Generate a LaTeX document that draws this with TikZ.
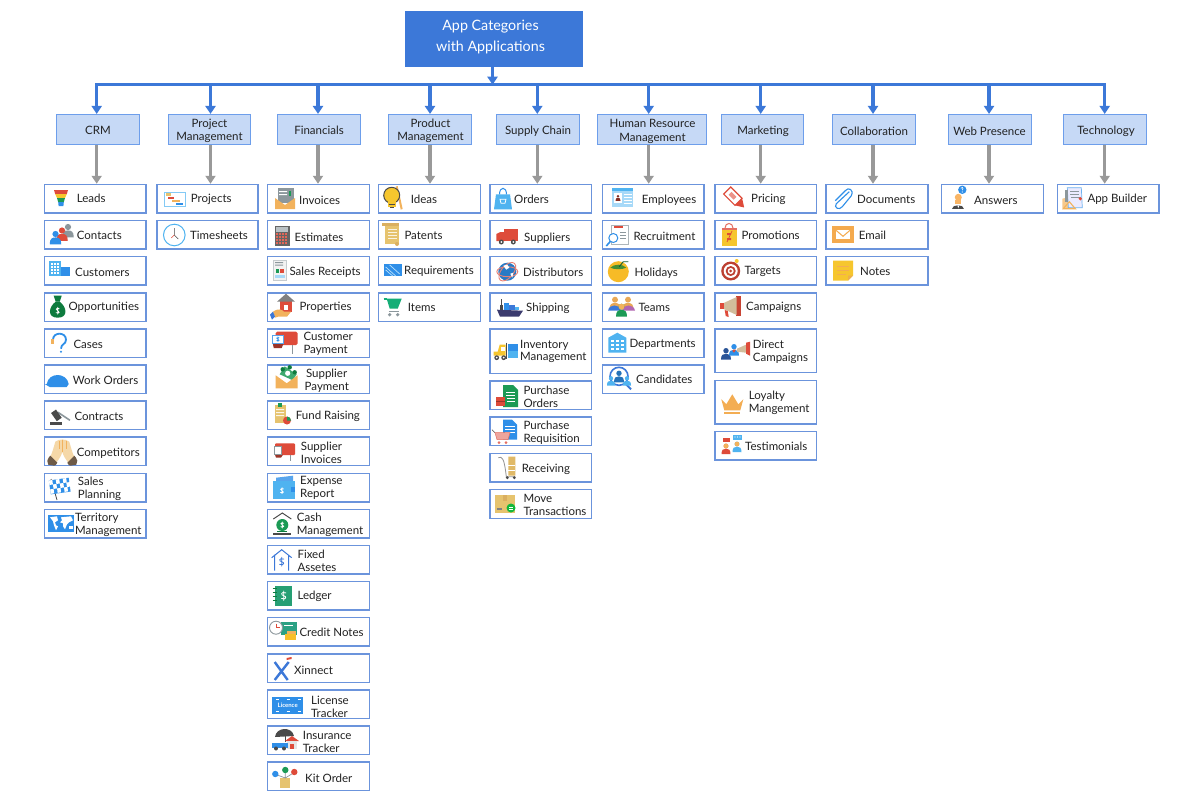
\documentclass[tikz,border=0pt]{standalone}
\usepackage{fontspec}
\setmainfont{Lato}
\usetikzlibrary{arrows.meta,calc}
\definecolor{rootc}{HTML}{3C78D8}
\definecolor{catf}{HTML}{C6D9F6}
\definecolor{catd}{HTML}{6D9EEB}
\definecolor{itemd}{HTML}{6B94DC}
\definecolor{grayar}{HTML}{999999}
\definecolor{txt}{HTML}{222222}
\definecolor{ib}{HTML}{2F8FE8}
\definecolor{ibl}{HTML}{4FB3F0}
\definecolor{ir}{HTML}{DE4B3A}
\definecolor{io}{HTML}{F2B25C}
\definecolor{iy}{HTML}{F6C62E}
\definecolor{ig}{HTML}{1C9A55}
\definecolor{igd}{HTML}{0E7B3E}
\definecolor{ik}{HTML}{4A4A4A}
\definecolor{it}{HTML}{E6C36E}
\definecolor{ip}{HTML}{F5D8A8}
\definecolor{igr}{HTML}{8C979C}
\tikzset{
  rootbox/.style={draw=rootc,fill=rootc,minimum width=177.5pt,minimum height=55pt,inner sep=0pt},
  catbox/.style={draw=catd,fill=catf,line width=1pt,inner sep=0pt},
  itembox/.style={draw=itemd,fill=white,line width=1.5pt,inner sep=0pt},
  rootlabel/.style={text=white,font=\fontsize{14.3}{21}\selectfont,align=center,inner sep=0pt,yshift=-1pt},
  catlabel/.style={text=txt,font=\fontsize{11.5}{13.2}\selectfont,align=center,inner sep=0pt,yshift=-1pt},
  itemlabel/.style={text=txt,font=\fontsize{11.5}{12.8}\selectfont,align=left,inner sep=0pt,anchor=west,yshift=-.8pt},
  busline/.style={draw=rootc,line width=2.6pt},
  bluear/.style={draw=rootc,line width=3.3pt,-{Triangle[length=8pt,width=10pt,fill=rootc]}},
  grayarr/.style={draw=grayar,line width=3.5pt,-{Triangle[length=8pt,width=10pt,fill=grayar]}},
}
% category box: name, x1, x2, label centre x, label centre y, label
\newcommand\catn[6]{\node[catbox,minimum width={(#3-#2)*1pt},minimum height=30.5pt] (#1) at ({(#2+#3)/2},129.7) {};
  \node[catlabel] (#1T) at (#4,#5) {#6};}
% item box: name, x1, x2, ytop, height, text x, text y, label
\newcommand\itm[8]{\node[itembox,minimum width={(#3-#2)*1pt},minimum height={(#5)*1pt}] (#1) at ({(#2+#3)/2},{#4+(#5)/2}) {};
  \node[itemlabel] (#1T) at (#6,#7) {#8};}
\newcommand\ic[3]{\begin{scope}[shift={(#1,#2)}]#3\end{scope}}
\newcommand\dollarmark[4]{\begin{scope}[shift={(#3,#4)},scale=#2]\draw[#1,line width=.8pt,line cap=round] (1.6,-2) .. controls (-2.2,-3.2) and (-2.2,-.3) .. (0,0) .. controls (2.2,.3) and (2.2,3.2) .. (-1.6,2) (0,-3.4) -- (0,3.4);\end{scope}}
\newcommand\person[4]{\begin{scope}[shift={(#1,#2)},scale=#3]\fill[#4] (0,0) circle (2.7);\fill[#4] (-5,9) .. controls (-5,4) and (-3,3) .. (0,3) .. controls (3,3) and (5,4) .. (5,9) -- cycle;\end{scope}}
\begin{document}
\begin{tikzpicture}[x=1pt,y=-1pt]
\useasboundingbox (0,0) rectangle (1199,803);
\fill[white] (0,0) rectangle (1199,803);
% root
\node[rootbox] (root) at (493.75,38.75) {};
\node[rootlabel] (rootT) at (490.5,36) {App Categories\\with Applications};
% bus coordinates
\foreach \n/\x in {1/96.7,2/210.5,3/318,4/430,5/537.3,6/648.7,7/760.7,8/873,9/989,10/1104.7}
  \coordinate (bus\n) at (\x,84.7);
\coordinate (busroot) at (492.5,84.7);
\draw[busline,line cap=rect] (bus1) -- (bus10);
% categories
\catn{c1}{56.5}{139.5}{98}{129}{CRM}
\catn{c2}{168}{250}{209.5}{130}{Project\\Management}
\catn{c3}{277.5}{360}{319}{129}{Financials}
\catn{c4}{388.5}{471.3}{430.5}{130}{Product\\Management}
\catn{c5}{496.3}{579}{538}{130}{Supply Chain}
\catn{c6}{597.3}{706}{652.5}{130.5}{Human Resource\\Management}
\catn{c7}{721}{803.7}{763}{130}{Marketing}
\catn{c8}{832.3}{915.3}{874}{130}{Collaboration}
\catn{c9}{948}{1031}{989.5}{130}{Web Presence}
\catn{c10}{1063.3}{1146.7}{1106}{130}{Technology}
\def\ra{184.5}\def\rb{220.6}\def\rc{256.7}\def\rd{292.8}\def\re{328.9}\def\rf{365}\def\rg{401.1}\def\rh{437.2}\def\ri{473.3}\def\rj{509.4}\def\rk{545.5}\def\rl{581.6}\def\rm{617.7}\def\rn{653.8}\def\ro{689.9}\def\rp{726}\def\rq{762.1}
\def\hh{28.5}
% col 1
\itm{a1}{44.5}{146}{\ra}{\hh}{76.7}{198}{Leads}
\itm{a2}{44.5}{146}{\rb}{\hh}{76.7}{235}{Contacts}
\itm{a3}{44.5}{146}{\rc}{\hh}{75}{271.5}{Customers}
\itm{a4}{44.5}{146}{\rd}{\hh}{68.3}{306.7}{Opportunities}
\itm{a5}{44.5}{146}{\re}{\hh}{73.3}{343.6}{Cases}
\itm{a6}{44.5}{146}{\rf}{\hh}{72.7}{379.3}{Work Orders}
\itm{a7}{44.5}{146}{\rg}{\hh}{74.3}{416}{Contracts}
\itm{a8}{44.5}{146}{\rh}{\hh}{76.7}{452}{Competitors}
\itm{a9}{44.5}{146}{\ri}{\hh}{77.7}{487.7}{Sales\\Planning}
\itm{a10}{44.5}{146}{\rj}{\hh}{75}{524}{Territory\\Management}
% col 2
\itm{b1}{157}{258}{\ra}{\hh}{190.7}{199}{Projects}
\itm{b2}{157}{258}{\rb}{\hh}{190}{234.7}{Timesheets}
% col 3
\itm{d1}{267.5}{369.5}{\ra}{\hh}{299}{200}{Invoices}
\itm{d2}{267.5}{369.5}{\rb}{\hh}{294.3}{237}{Estimates}
\itm{d3}{267.5}{369.5}{\rc}{\hh}{289.3}{271.5}{Sales Receipts}
\itm{d4}{267.5}{369.5}{\rd}{\hh}{299.3}{306.7}{Properties}
\itm{d5}{267.5}{369.5}{\re}{\hh}{303.3}{342.7}{Customer\\Payment}
\itm{d6}{267.5}{369.5}{\rf}{\hh}{304.5}{379.7}{\hspace{1.3pt}Supplier\\Payment}
\itm{d7}{267.5}{369.5}{\rg}{\hh}{295.7}{415.3}{Fund Raising}
\itm{d8}{267.5}{369.5}{\rh}{\hh}{300.7}{451.7}{Supplier\\Invoices}
\itm{d9}{267.5}{369.5}{\ri}{\hh}{300}{487.3}{Expense\\Report}
\itm{d10}{267.5}{369.5}{\rj}{\hh}{296.7}{524}{Cash\\Management}
\itm{d11}{267.5}{369.5}{\rk}{\hh}{297.3}{560}{Fixed\\Assetes}
\itm{d12}{267.5}{369.5}{\rl}{\hh}{297.3}{595.7}{Ledger}
\itm{d13}{267.5}{369.5}{\rm}{\hh}{299.3}{632}{Credit Notes}
\itm{d14}{267.5}{369.5}{\rn}{\hh}{294}{669.7}{Xinnect}
\itm{d15}{267.5}{369.5}{\ro}{\hh}{311}{706}{License\\Tracker}
\itm{d16}{267.5}{369.5}{\rp}{\hh}{302.7}{741.3}{Insurance\\Tracker}
\itm{d17}{267.5}{369.5}{\rq}{\hh}{305}{777.3}{Kit Order}
% col 4
\itm{e1}{378.5}{480.5}{\ra}{\hh}{410.7}{199}{Ideas}
\itm{e2}{378.5}{480.5}{\rb}{\hh}{404.3}{234.7}{Patents}
\itm{e3}{378.5}{480.5}{\rc}{\hh}{404}{270.7}{Requirements}
\itm{e4}{378.5}{480.5}{\rd}{\hh}{407.7}{307}{Items}
% col 5
\itm{f1}{490}{591.5}{\ra}{\hh}{514}{198.3}{Orders}
\itm{f2}{490}{591.5}{\rb}{\hh}{524}{237}{Suppliers}
\itm{f3}{490}{591.5}{\rc}{\hh}{523}{271.3}{Distributors}
\itm{f4}{490}{591.5}{\rd}{\hh}{526}{307.7}{Shipping}
\itm{f5}{490}{591.5}{329}{44.4}{520}{350.7}{Inventory\\Management}
\itm{f6}{490}{591.5}{381}{28.7}{523.3}{396.2}{Purchase\\Orders}
\itm{f7}{490}{591.5}{417.2}{28.5}{523.3}{431.7}{Purchase\\Requisition}
\itm{f8}{490}{591.5}{453.3}{28.7}{521.7}{468.3}{Receiving}
\itm{f9}{490}{591.5}{489.4}{28.9}{523.3}{504.5}{Move\\Transactions}
% col 6
\itm{g1}{602.5}{704}{\ra}{\hh}{641.7}{199}{Employees}
\itm{g2}{602.5}{704}{\rb}{\hh}{633.3}{235.3}{Recruitment}
\itm{g3}{602.5}{704}{\rc}{\hh}{634.3}{272}{Holidays}
\itm{g4}{602.5}{704}{\rd}{\hh}{638.3}{307}{Teams}
\itm{g5}{602.5}{704}{\re}{\hh}{629.3}{343.7}{Departments}
\itm{g6}{602.5}{704}{\rf}{\hh}{636}{379}{Candidates}
% col 7
\itm{h1}{715}{816.5}{\ra}{\hh}{751}{198.7}{Pricing}
\itm{h2}{715}{816.5}{\rb}{\hh}{741.3}{234.7}{Promotions}
\itm{h3}{715}{816.5}{\rc}{\hh}{744.3}{270.7}{Targets}
\itm{h4}{715}{816.5}{\rd}{\hh}{746}{306.7}{Campaigns}
\itm{h5}{715}{816.5}{329}{43.7}{752.7}{351.3}{Direct\\Campaigns}
\itm{h6}{715}{816.5}{380.4}{43.7}{748.7}{402}{Loyalty\\Mangement}
\itm{h7}{715}{816.5}{431.6}{28.5}{745}{445.7}{Testimonials}
% col 8
\itm{j1}{826}{928}{\ra}{\hh}{857}{198.7}{Documents}
\itm{j2}{826}{928}{\rb}{\hh}{858.7}{234.7}{Email}
\itm{j3}{826}{928}{\rc}{\hh}{860}{270.7}{Notes}
% col 9, 10
\itm{k1}{941.5}{1043.5}{\ra}{\hh}{974}{199.3}{Answers}
\itm{l1}{1057.5}{1159}{\ra}{\hh}{1087.3}{198.7}{App Builder}
% connectors
\draw[bluear] (root.south -| busroot) -- (busroot);
\foreach \c/\b/\it in {c1/bus1/a1,c2/bus2/b1,c3/bus3/d1,c4/bus4/e1,c5/bus5/f1,c6/bus6/g1,c7/bus7/h1,c8/bus8/j1,c9/bus9/k1,c10/bus10/l1}{
  \draw[bluear] (\b) -- (\b |- \c.north);
  \draw[grayarr] (\c.south -| \b) -- (\b |- \it.north);
}
% ---------- icons ----------
% Leads
\ic{61}{198}{\fill[ir] (-7,-8)--(7,-8)--(5.8,-4)--(-5.8,-4)--cycle;\fill[iy] (-5.8,-4)--(5.8,-4)--(4,0)--(-4,0)--cycle;\fill[ig] (-4,0)--(4,0)--(2.8,4)--(-2.8,4)--cycle;\fill[ib] (-2.8,4)--(2.8,4)--(2.4,8)--(-2.4,8)--cycle;}
% Contacts
\ic{61.5}{234.5}{\person{6.5}{-7.5}{1.15}{igr}\person{0.5}{-4}{1.15}{ir}\person{-6}{-.5}{1.15}{ib}}
% Customers
\ic{59}{269}{\fill[ib] (-10,-2) rectangle (11,7);\fill[ibl] (-10,-8) rectangle (2,7);\foreach \i in {-8,-5,-2}{\foreach \j in {-6,-3,0,3}{\fill[white] (\i,\j) rectangle ++(2,1.6);}}}
% Opportunities
\ic{57.7}{306.7}{\fill[igd] (-2,-5) .. controls (-9,0) and (-11,11) .. (0,11) .. controls (11,11) and (9,0) .. (2,-5) -- cycle;\fill[igd] (-4,-11) -- (4,-11) -- (2,-5) -- (-2,-5) -- cycle;\dollarmark{white}{1}{0}{4}}
% Cases
\ic{59}{342.7}{\draw[ib,line width=1.8pt] (-6,-3) .. controls (-6,-11) and (7,-11) .. (7,-3) .. controls (7,2) and (2,1) .. (2,6);\fill[ib] (2,9) circle (1.2);\fill[io] (-8.5,-4) rectangle (-5,1);}
% Work Orders
\ic{57.7}{380}{\fill[ib] (-11,4) .. controls (-9,-8) and (9,-8) .. (11,4) -- cycle;\fill[ib] (-13,4) -- (11,4) -- (9,7) -- (-8,7) -- cycle;}
% Contracts
\ic{60}{415.3}{\fill[ik] (-10,7) rectangle (2,9.5);\draw[igr,line width=1.6pt] (-2,-3) -- (10,5);\begin{scope}[rotate=35]\fill[ik] (-6,-7) rectangle (0,3);\end{scope}}
% Competitors
\ic{62.3}{452.7}{\fill[ip] (-7,-11) .. controls (-3,-14) and (3,-14) .. (7,-11) .. controls (9,-4) and (10,0) .. (12,4) -- (6,10) .. controls (3,6) and (1,3) .. (0,-1) .. controls (-1,3) and (-3,6) .. (-6,10) -- (-12,4) .. controls (-10,0) and (-9,-4) .. (-7,-11) -- cycle;\draw[io,line width=.5pt] (-3.5,-12) -- (-3.5,-4) (3.5,-12) -- (3.5,-4) (0,-13) -- (0,-1);\fill[ik!70!brown] (-15,8) .. controls (-14,5) and (-13,4) .. (-12,3) -- (-5,10) .. controls (-6,12) and (-7,13) .. (-8,13) -- (-14,12) -- cycle;\fill[ik!70!brown] (15,8) .. controls (14,5) and (13,4) .. (12,3) -- (5,10) .. controls (6,12) and (7,13) .. (8,13) -- (14,12) -- cycle;}
% Sales Planning
\ic{60}{488}{\draw[ik,line width=.8pt] (-9,-9) -- (-3,12);\begin{scope}[rotate=8]\fill[ib] (-10,-9) rectangle (10,5);\foreach \i/\j in {-10/-9,-3/-9,4/-9,-6.5/-4.5,.5/-4.5,7/-4.5,-10/0,-3/0,4/0}{\fill[white] (\i,\j) rectangle ++(3.5,4.5);}\end{scope}}
% Territory
\ic{61}{523.3}{\fill[ib] (-13,-8.5) rectangle (13,8.5);\fill[white] (-11,-6) -- (-4,-7) -- (-3,-3) -- (-6,-1) -- (-5,2) -- (-3,3) -- (-5,7) -- (-7,2) -- (-8,-2) -- cycle;\fill[white] (0,-6) -- (10,-7) -- (12,-3) -- (8,-1) -- (6,1) -- (4,6) -- (2,3) -- (2,0) -- (-1,-1) -- (1,-3) -- cycle;\fill[white] (8,3) rectangle (12,6);}
% Projects
\ic{175}{199.3}{\draw[ibl!70,line width=.8pt,fill=white] (-10.5,-7) rectangle (10.5,7);\fill[it] (-9,-6) rectangle (-4,-3.5);\fill[ir] (-7,-2) rectangle (-1,0);\fill[io] (-3,1) rectangle (5,3);\fill[ib] (1,3.7) rectangle (8,5.5);}
% Timesheets
\ic{174.3}{235}{\draw[ibl,line width=1pt,fill=white] (0,0) circle (10.8);\draw[ik,line width=.6pt] (0,-7) -- (0,0) -- (4,4);\draw[ir,line width=.6pt] (0,0) -- (-3,3);}
% Invoices
\ic{285}{199}{\fill[igr] (-7.5,-11) rectangle (8.5,4);\fill[white] (-6,-8) rectangle (2,-7) (-6,-5) rectangle (2,-4);\fill[ig] (4,-8) rectangle (6,-3);\fill[io] (-10,-1) -- (0,6) -- (10,-1) -- (10,10) -- (-10,10) -- cycle;}
% Estimates
\ic{282}{235.5}{\fill[ik!85] (-7.5,-10) rectangle (7.5,10);\fill[igr!60] (-6,-8.5) rectangle (6,-4);\foreach \i in {-6,-3,0,3}{\foreach \j in {-2.5,.5,3.5,6.5}{\fill[ir!85] (\i,\j) rectangle ++(2.2,2);}}}
% Sales Receipts
\ic{280}{270}{\draw[igr!50,fill=white!95!black,line width=.8pt] (-6.5,-10) rectangle (6.5,10);\fill[igr] (-5,-8) rectangle (3,-7) (-5,-5.5) rectangle (3,-4.5);\fill[ig] (-4,-1) rectangle (-1,3);\fill[ir] (0,-1) rectangle (4,3);\fill[ibl!50] (-5,5) rectangle (5,8);}
% Properties
\ic{284}{306.7}{\fill[ir] (-4,-6) rectangle (8,5);\fill[ik!70] (-7,-5) -- (2,-13) -- (11,-5) -- cycle;\fill[white] (0,-2) rectangle (4,3);\fill[io] (-11,5) .. controls (-5,1) and (-2,3) .. (0,5) -- (7,5) -- (3,10) -- (-6,10) -- (-9,11) -- cycle;\fill[rootc] (-14,8) -- (-11,5) -- (-9,10) -- (-12,13) -- cycle;}
% Customer Payment
\ic{281.7}{341}{\fill[ir,rounded corners=1.5pt] (-6,-9.3) rectangle (16,4);\fill[ir!70!black] (-9,2) -- (2,2) -- (0,7) -- (-8,7) -- cycle;\draw[ib!80,fill=white,line width=.7pt] (-9.5,-5.5) rectangle (2,2);\fill[igr] (10,4) rectangle (11,12.5);\dollarmark{ib}{.7}{-3.8}{-1.8}}
% Supplier Payment
\ic{286.7}{378.3}{\fill[ig!85!white] (-7,-4) -- (-2,-12) -- (10,-4) -- (6,2) -- cycle;\fill[igd] (-4,-9) circle (2.2) (3,-11) circle (2.2) (8,-6) circle (2.2);\fill[white] (1,-5) circle (2.6);\fill[io] (-11,-3) -- (0,5) -- (11,-3) -- (11,10) -- (-11,10) -- cycle;}
% Fund Raising
\ic{280}{415}{\fill[it] (-5.5,-10) rectangle (5.5,8);\fill[ig] (-2,-12) rectangle (2,-8);\fill[white!85!it] (-4,-6) rectangle (4,-5) (-4,-3) rectangle (4,-2) (-4,0) rectangle (4,1);\fill[ir] (7,5.5) circle (4);\fill[ig] (7,1.5) arc (-90:0:4) -- (7,5.5) -- cycle;}
% Supplier Invoices
\ic{284}{451.7}{\fill[ir,rounded corners=1pt] (-9,-8.4) rectangle (11,3.3);\fill[ir!70!black] (-9,3) -- (-1,3) -- (-3,6) -- (-8,6) -- cycle;\draw[igr,fill=white,line width=.6pt] (-10,-5.5) rectangle (-3,3);\fill[igr] (5.5,3.3) rectangle (6.5,9);}
% Expense
\ic{284}{486.7}{\fill[ib!80] (-8,-9) -- (9,-11) -- (9,-4) -- (-8,-4) -- cycle;\fill[ibl] (-11,-6) rectangle (11,12);\fill[ib] (7,0) rectangle (11,5);\dollarmark{white}{.9}{-2}{4}}
% Cash
\ic{282.3}{524}{\draw[ik,line width=1pt] (-9,-5) -- (0,-11) -- (9,-5);\fill[ig] (0,1) circle (6);\dollarmark{white}{.9}{0}{1}\fill[ik] (-9,9) rectangle (9,10.5);\draw[igd,line width=.9pt] (-5,7.5) -- (5,7.5);}
% Fixed
\ic{281.7}{560.7}{\draw[rootc,line width=1pt] (-10,-3) -- (0,-11) -- (10,-3) (-7,-6) -- (-7,10) (7,-6) -- (7,10);\dollarmark{rootc}{1.3}{0}{1}}
% Ledger
\ic{282.7}{595.7}{\fill[ig!80!ibl] (-8,-10) rectangle (9,10);\foreach \j in {-7,-3,1,5}{\draw[igd,line width=1pt] (-10,\j) -- (-6,\j);}\dollarmark{white}{1.4}{1}{0}}
% Credit Notes
\ic{284}{630.7}{\fill[ig!70!ibl] (-3,-9) rectangle (13,4);\fill[iy!90!orange] (1,3) rectangle (12,9);\fill[io] (3,0) rectangle (12,3);\draw[igr,line width=.9pt,fill=white] (-8,-3) circle (6.5);\draw[ir,line width=.6pt] (-8,-7) -- (-8,-3) -- (-4,-3);\fill[white] (0,-6) rectangle (9,-5);}
% Xinnect
\ic{281.7}{670}{\draw[rootc,line width=2.4pt] (-7,-8) -- (6,10) (7,-8) -- (-7,10);\fill[ir] (5,-12) -- (10,-13) -- (10,-11) -- (5,-10) -- cycle;}
% License
\ic{287.7}{705.7}{\fill[ib] (-15.5,-8.5) rectangle (15.5,8.5);\draw[white,line width=.7pt] (-12,-6) -- (-9,-6) (-1,-6) -- (2,-6) (10,-6) -- (13,-6) (-12,6) -- (-9,6) (-1,6) -- (2,6) (10,6) -- (13,6);\node[text=white,font=\fontsize{6}{7}\selectfont\bfseries,inner sep=0pt] (liclabel) at (0,0) {Licence};}
% Insurance
\ic{286}{740}{\fill[ik] (-11,-3) .. controls (-10,-13) and (6,-14) .. (8,-4) -- cycle;\draw[ik,line width=.7pt] (-1,-4) -- (-1,2);\fill[ir] (-1,1) -- (6,-4) -- (13,1) -- cycle;\fill[white!90!black] (1,1) rectangle (11,9);\fill[ir] (4,4) rectangle (8,9);\fill[ib] (-14,3) rectangle (2,8);\fill[ik] (-10,8.5) circle (2) (-2,8.5) circle (2);}
% Kit
\ic{284.3}{776}{\fill[it] (-4,2) rectangle (6,12);\draw[igr,line width=.7pt] (1,2) -- (1,-3) (1,2) -- (-7,-1) (1,2) -- (9,-3);\fill[ig] (1,-6) circle (3.2);\fill[ib] (-9,-2) circle (3.2);\fill[ir] (10,-4) circle (3.2);}
% Ideas
\ic{391.7}{198.3}{\draw[io,line width=2pt] (5,-12) -- (10,11);\fill[iy] (0,-3) circle (8);\draw[ik,line width=1pt] (0,-3) circle (8);\fill[iy] (-4,3) rectangle (4,9);\draw[ik,line width=1pt] (-3,6) -- (3,6) (-2,9) -- (2,9);}
% Patents
\ic{391}{235}{\fill[it] (-6,-10) rectangle (8,9);\fill[it!70!brown] (-9,-12) rectangle (8,-9);\draw[white!80!it,line width=1pt] (-3,-6) -- (6,-6) (-3,-3) -- (6,-3) (-3,0) -- (6,0) (-3,3) -- (6,3);\fill[it!70!brown] (6,9) circle (2);}
% Requirements
\ic{392.7}{270}{\fill[ib] (-9,-6) rectangle (9,6);\draw[ibl!40,line width=.7pt] (-7,-3) -- (3,6) (-7,0) -- (0,6) (-3,-5) -- (7,4);}
% Items
\ic{392.7}{306.7}{\draw[ig!80!cyan,line width=2pt] (-9,-8) -- (-6,-8);\fill[ig!80!cyan] (-6,-8) -- (9,-8) -- (5,2) -- (-3,2) -- cycle;\draw[igr,line width=1pt] (-4,4.5) -- (6,4.5);\fill[igr] (-3,8) circle (1.8) (5,8) circle (1.8);}
% Orders
\ic{503}{198.3}{\fill[ibl] (-7,-4) -- (7,-4) -- (9,11) -- (-9,11) -- cycle;\draw[ib,line width=1pt] (-3.5,-4) .. controls (-3.5,-12) and (3.5,-12) .. (3.5,-4);\draw[white,line width=.8pt] (-3,1) -- (3,1) -- (2,5) -- (-2,5) -- cycle;}
% Suppliers
\ic{507.3}{236}{\fill[ir] (-3,-7) rectangle (11,5);\fill[ir] (-11,-2) -- (-7,-4) -- (-3,-4) -- (-3,5) -- (-11,5) -- cycle;\fill[ik] (-6,6) circle (2.5) (6,6) circle (2.5);\fill[white] (-6,6) circle (1) (6,6) circle (1);}
% Distributors
\ic{507.3}{271.7}{\fill[ib!85!black] (0,0) circle (9);\draw[ir!70,line width=.9pt] (0,0) ellipse (10.5 and 5);\draw[ir!70,line width=.9pt,rotate=50] (0,0) ellipse (11 and 6);\fill[white] (-4,-6) -- (0,-7) -- (2,-4) -- (-1,-2) -- cycle;\fill[white] (3,2) -- (6,1) -- (5,6) -- cycle;}
% Shipping
\ic{510}{307.7}{\fill[ik!80!blue] (-13,2) -- (13,3) -- (9,9) -- (-10,9) -- cycle;\fill[ib] (-6,-5) rectangle (-1,2);\fill[rootc] (-1,-3) rectangle (5,2);\fill[ibl] (5,-1) rectangle (9,2);\fill[ik] (-10,-3) rectangle (-7,2);\draw[ik,line width=.7pt] (-9,-3) -- (-9,-9);}
% Inventory
\ic{505.7}{351.7}{\fill[iy] (-12,0) -- (-8,0) -- (-6,-7) -- (0,-7) -- (0,4) -- (-12,4) -- cycle;\fill[white] (-5,-5) rectangle (-1,-1);\fill[ik] (-9,6) circle (2.4) (-2,6) circle (2.4);\fill[white] (-9,6) circle (1) (-2,6) circle (1);\fill[ib] (2,-8) rectangle (12,-1);\fill[ibl] (2,-1) rectangle (12,6);\draw[ik,line width=1pt] (1,-9) -- (1,7);}
% Purchase Orders
\ic{505}{396}{\fill[ig] (-2,-11) -- (8,-11) -- (13,-6) -- (13,11) -- (-2,11) -- cycle;\draw[white,line width=.7pt] (1,-4) -- (10,-4) (1,-1) -- (10,-1) (2,2) -- (10,2) (2,5) -- (10,5);\fill[ir] (-9,1) rectangle (0,10);\draw[ir!70!black,line width=.6pt] (-9,5) -- (0,5);}
% Purchase Req
\ic{505}{431.7}{\fill[ib] (-2,-12) -- (7,-12) -- (12,-7) -- (12,8) -- (-2,8) -- cycle;\draw[white,line width=.6pt] (0,-5) -- (10,-5) (0,-2) -- (10,-2) (0,1) -- (10,1);\draw[ik,line width=.6pt] (-13,-2) -- (-10,1);\fill[ir!50,draw=ir!80,line width=.5pt] (-10,1) -- (5,1) -- (3,8) -- (-8,8) -- cycle;\fill[ir!80] (-6,11) circle (1.5) (1,11) circle (1.5);}
% Receiving
\ic{507.3}{466.7}{\draw[ik!60,line width=.8pt] (-9,-9) .. controls (-5,-11) and (-3,-8) .. (-1,10) -- (8,10);\fill[it!85!brown] (1,-10) rectangle (8,-2) (1,-2) rectangle (8,3) (1,3) rectangle (8,9);\draw[white,line width=.4pt] (1,-2) -- (8,-2) (1,3) -- (8,3);\fill[ik] (0,11) circle (1.6) (7,11) circle (1.6);}
% Move
\ic{505}{504}{\fill[it] (-10,-9) rectangle (10,9);\fill[it!70!brown] (-2,-9) rectangle (2,-3);\fill[ik!70] (-8,4) rectangle (-3,6);\fill[ig!70!green] (6,4) circle (4.5);\draw[white,line width=.6pt] (4,3) -- (8,3) (4,5) -- (8,5);}
% Employees
\ic{622.7}{198.3}{\fill[ibl!50] (-10.5,-10) rectangle (10.5,9);\fill[ibl] (-10.5,-10) rectangle (10.5,-7);\fill[white] (-8.5,-5) rectangle (-1,5);\person{-4.7}{-2}{.5}{ir!60!black}\draw[white,line width=1pt] (1,-4) -- (9,-4) (1,-1) -- (9,-1) (1,2) -- (9,2) (1,5) -- (9,5);}
% Recruitment
\ic{618.3}{235}{\draw[igr!70,fill=white,line width=1pt] (-7,-10) rectangle (10,9);\fill[ir] (-4,-9) rectangle (5,-7);\draw[igr,line width=.7pt] (2,-3) -- (8,-3) (2,0) -- (8,0) (2,3) -- (8,3);\draw[ib,line width=1pt,fill=white] (-5,3) circle (4.5);\draw[ib,line width=1.6pt] (-8,6.5) -- (-12,11);}
% Holidays
\ic{618.3}{270.7}{\fill[iy!85!orange] (0,1) circle (10.5);\fill[ig!60!olive] (-8,-3) .. controls (-4,-7) and (4,-7) .. (8,-3) .. controls (4,-1) and (-4,-1) .. (-8,-3) -- cycle;\draw[ig!60!black,line width=.9pt] (1,-4) -- (5,-9) -- (10,-9);}
% Teams
\ic{621}{306.7}{\person{-6}{-7}{1.1}{io!80!brown}\person{7}{-7}{1.1}{io!80!brown}\fill[rootc] (-13,4) .. controls (-12,-3) and (-1,-3) .. (0,4) -- cycle;\fill[violet!60] (1,4) .. controls (2,-3) and (13,-3) .. (14,4) -- cycle;\person{0.5}{0}{1.1}{ig}\fill[io] (0.5,0) circle (3);}
% Departments
\ic{617.3}{342.7}{\fill[ibl] (-9,-5) -- (0,-10) -- (9,-5) -- (9,10) -- (-9,10) -- cycle;\foreach \i in {-6,-1,4}{\foreach \j in {-3,1,5}{\fill[white] (\i,\j) rectangle ++(2.5,2.5);}}}
% Candidates
\ic{619}{379.3}{\draw[rootc,line width=1.6pt] (0,-3) circle (9);\draw[rootc,line width=2pt] (7,5) -- (12,10);\person{0}{-6}{1}{ib!80!black}\person{-8}{-1}{.8}{ibl}\person{8}{-1}{.8}{ibl}}
% Pricing
\ic{735}{198.3}{\begin{scope}[rotate=-45]\draw[ir,fill=white,line width=1.2pt] (-11,-5) rectangle (5,5);\fill[ir] (5,-5) -- (13,0) -- (5,5) -- cycle;\fill[ir!60] (-7,-2) rectangle (0,2);\end{scope}}
% Promotions
\ic{729}{235}{\draw[ir!80,line width=1pt] (-4,-7) .. controls (-4,-13) and (4,-13) .. (4,-7);\fill[iy] (-7.5,-7) rectangle (7.5,11);\fill[ir!80] (-7.5,-7) rectangle (7.5,-5);\fill[ir] (-2,-2) rectangle (2,0) (-2,3) rectangle (2,5);\draw[ir,line width=.7pt] (-2,7) -- (3,-4);}
% Targets
\ic{730.7}{271}{\fill[ir!85!black] (0,0) circle (9.5);\fill[white] (0,0) circle (7);\fill[ir!85!black] (0,0) circle (5);\fill[white] (0,0) circle (3);\fill[ir!85!black] (0,0) circle (1.5);\fill[iy] (6,-10) circle (2);}
% Campaigns
\ic{730.7}{306}{\fill[ir!90!black] (5,-10) rectangle (10,10);\fill[ip!70!gray] (-7,-3) -- (6,-9) -- (6,9) -- (-7,3) -- cycle;\fill[ir] (-11,-3) rectangle (-7,3);\fill[ir] (-6,4) -- (-3,5) -- (-2,11) -- (-5,10) -- cycle;}
% Direct Campaigns
\ic{734}{352.7}{\person{-8}{-2}{1}{rootc!70!black}\person{0}{-6}{1}{ib}\fill[ir] (2,-3) .. controls (-3,-4) and (-2,0) .. (0,0);\fill[ip!70!gray] (3,-4) -- (12,-8) -- (12,0) -- (3,-1) -- cycle;\fill[ir] (12,-10) -- (16,-11) -- (16,3) -- (12,1) -- cycle;}
% Loyalty
\ic{732.3}{403.3}{\fill[io!90!orange] (-11,-4) -- (-6,1) -- (0,-9) -- (6,1) -- (11,-4) -- (8,7) -- (-8,7) -- cycle;\fill[io!90!orange] (-8,9) rectangle (8,11);}
% Testimonials
\ic{731}{446}{\person{-5}{0}{.9}{ir}\person{6}{-2}{.9}{ibl}\fill[io] (-5,0) circle (2.4) (6,-2) circle (2.4);\fill[ir] (-8,-8) rectangle (-1,-4);\fill[ibl] (2,-11) rectangle (11,-6);\fill[white] (4,-9) circle (.6) (6.5,-9) circle (.6) (9,-9) circle (.6);}
% Documents
\ic{842.3}{198.7}{\draw[ib,line width=1.1pt] (7,-7) -- (-6,5) .. controls (-9,9) and (-3,12) .. (0,8) -- (9,-3) .. controls (12,-9) and (6,-12) .. (3,-8) -- (-7,2);}
% Email
\ic{843}{234.3}{\fill[io!85!orange] (-11,-8.5) rectangle (11,8.5);\fill[white] (-7,-4) rectangle (7,5);\draw[io!85!orange,line width=1pt] (-7,-4) -- (0,2) -- (7,-4);}
% Notes
\ic{843}{270.7}{\fill[iy] (-10,-10) -- (10,-10) -- (10,5) -- (5,10) -- (-10,10) -- cycle;\fill[it!70!orange] (10,5) -- (5,5) -- (5,10) -- cycle;\draw[io!90!orange,line width=.7pt] (-6,-4) -- (6,-4) (-6,0) -- (6,0) (-6,4) -- (3,4);}
% Answers
\ic{958.3}{198.3}{\fill[ip!60!orange] (0,-1) circle (3.5);\fill[ip!60!orange] (-3,2) rectangle (3,6);\fill[ik] (-6,11) .. controls (-6,6) and (6,6) .. (6,11) -- cycle;\fill[white] (-1,7) -- (1,7) -- (0,10) -- cycle;\fill[ib] (4,-8.5) circle (4.2);\fill[white] (4,-6.3) circle (.6);\draw[white,line width=.6pt] (2.5,-10) .. controls (3,-12) and (6,-11) .. (4,-8);}
% App Builder
\ic{1073.3}{198.7}{\fill[io!70] (-11,0) -- (-2,-2) -- (-2,10) -- (-11,10) -- cycle;\draw[ib!70,fill=white!92!blue,line width=.7pt] (-6,-11) -- (8,-11) -- (9,9) -- (-5,9) -- cycle;\draw[igr,line width=.7pt] (-3,-7) -- (6,-7) (-3,-4) -- (6,-4) (-2,-1) -- (7,-1);\fill[igr] (-8,-9) rectangle (-5,3);\fill[ir] (7,0) circle (1.8);\draw[io,line width=1.1pt] (-10,10) -- (2,10) -- (-4,3) -- cycle;}
\end{tikzpicture}
\end{document}
